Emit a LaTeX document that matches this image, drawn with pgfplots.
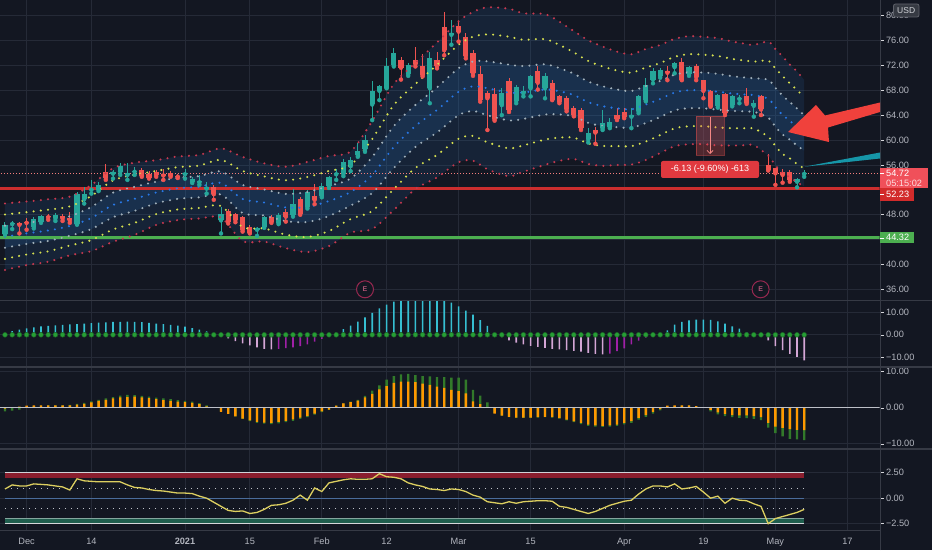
\documentclass[border=0pt]{standalone}
\usepackage{fontspec}
\setmainfont{Liberation Sans}
\usepackage{pgfplots}
\pgfplotsset{compat=1.18}
\usepackage{pgfplotstable}
\usepgfplotslibrary{fillbetween}
\usetikzlibrary{arrows.meta}

\definecolor{bg}{HTML}{131722}
\definecolor{gridc}{HTML}{252A37}
\definecolor{sepc}{HTML}{363A45}
\definecolor{txt}{HTML}{B2B5BE}
\definecolor{upc}{HTML}{26A69A}
\definecolor{dnc}{HTML}{EF5350}
\definecolor{bandfill}{HTML}{286EB4}
\definecolor{dred}{HTML}{C7394F}
\definecolor{dyel}{HTML}{D7E150}
\definecolor{dwht}{HTML}{A0AFB9}
\definecolor{dblu}{HTML}{2878E6}
\definecolor{lred}{HTML}{CC2E2E}
\definecolor{lgrn}{HTML}{4CAF50}
\definecolor{cyanb}{HTML}{36BFD2}
\definecolor{pinkb}{HTML}{D4A6D6}
\definecolor{purpb}{HTML}{A020A8}
\definecolor{sqz}{HTML}{279E36}
\definecolor{orb}{HTML}{FF9800}
\definecolor{grb}{HTML}{327A2A}
\definecolor{osc}{HTML}{DCCF60}
\definecolor{tagredA}{HTML}{F0505A}
\definecolor{tagredB}{HTML}{D22B2B}
\definecolor{labred}{HTML}{E0393F}
\definecolor{arrred}{HTML}{F0413C}
\definecolor{tealw}{HTML}{1696A8}
\definecolor{emark}{HTML}{962850}
\definecolor{redband}{HTML}{8A1E2E}
\definecolor{grnband}{HTML}{1F5E4E}
\definecolor{zeroc}{HTML}{4A6C9B}
\pagecolor{bg}

\newcommand{\tf}{\fontsize{9.2}{11}\selectfont}

\pgfplotstableread{
k Ru Yu Wu B Wl Yl Rl
1 49.82 48.04 46.26 44.48 42.70 40.92 39.14
4 50.12 48.42 46.72 45.02 43.32 41.62 39.92
7 50.48 48.81 47.14 45.47 43.80 42.13 40.46
10 50.91 49.34 47.77 46.20 44.63 43.06 41.49
13 52.79 51.02 49.25 47.48 45.71 43.94 42.17
16 55.48 53.51 51.54 49.57 47.60 45.63 43.66
19 56.35 54.42 52.49 50.56 48.63 46.70 44.77
22 56.76 55.03 53.30 51.57 49.84 48.11 46.38
25 57.35 55.65 53.95 52.25 50.55 48.85 47.15
28 57.60 55.90 54.20 52.50 50.80 49.10 47.40
31 58.65 56.80 54.95 53.10 51.25 49.40 47.55
34 57.28 55.03 52.78 50.53 48.28 46.03 43.78
37 56.24 54.15 52.06 49.97 47.88 45.79 43.70
40 55.71 53.53 51.35 49.17 46.99 44.81 42.63
43 56.48 54.07 51.66 49.25 46.84 44.43 42.02
46 57.44 55.03 52.62 50.21 47.80 45.39 42.98
49 58.16 55.99 53.82 51.65 49.48 47.31 45.14
52 63.05 60.16 57.27 54.38 51.49 48.60 45.71
55 68.99 65.62 62.25 58.88 55.51 52.14 48.77
58 72.36 68.99 65.62 62.25 58.88 55.51 52.14
61 75.65 72.04 68.43 64.82 61.21 57.60 53.99
64 79.06 75.29 71.52 67.75 63.98 60.21 56.44
66 80.56 76.58 72.60 68.62 64.64 60.66 56.68
68 81.29 76.96 72.63 68.30 63.97 59.64 55.31
71 81.06 76.58 72.10 67.62 63.14 58.66 54.18
73 80.34 76.10 71.86 67.62 63.38 59.14 54.90
76 80.21 76.18 72.15 68.12 64.09 60.06 56.03
78 78.98 75.26 71.54 67.82 64.10 60.38 56.66
80 77.48 74.06 70.64 67.22 63.80 60.38 56.96
82 76.00 72.69 69.38 66.07 62.76 59.45 56.14
84 75.00 71.81 68.62 65.43 62.24 59.05 55.86
86 74.18 71.15 68.12 65.09 62.06 59.03 56.00
88 73.76 70.81 67.86 64.91 61.96 59.01 56.06
90 74.61 71.64 68.67 65.70 62.73 59.76 56.79
92 75.25 72.36 69.47 66.58 63.69 60.80 57.91
94 76.23 73.36 70.49 67.62 64.75 61.88 59.01
96 76.66 73.77 70.88 67.99 65.10 62.21 59.32
98 76.56 73.69 70.82 67.95 65.08 62.21 59.34
100 76.36 73.49 70.62 67.75 64.88 62.01 59.14
102 75.80 73.02 70.24 67.46 64.68 61.90 59.12
104 75.42 72.71 70.00 67.29 64.58 61.87 59.16
105 75.26 72.58 69.90 67.22 64.54 61.86 59.18
107 75.78 72.73 69.68 66.63 63.58 60.53 57.48
108 74.59 71.48 68.37 65.26 62.15 59.04 55.93
109 73.40 70.27 67.14 64.01 60.88 57.75 54.62
110 72.11 69.10 66.09 63.08 60.07 57.06 54.05
111 71.00 68.03 65.06 62.09 59.12 56.15 53.18
112 69.64 66.80 63.96 61.12 58.28 55.44 52.60
}\bands

\pgfplotstableread{
k O H L C
1 44.9 46.9 44.8 46.4
2 46.5 47.0 45.7 46.7
5 46.1 47.7 45.8 47.3
6 46.9 48.0 46.7 47.8
8 47.4 48.3 47.0 47.9
11 46.5 51.7 46.4 51.3
12 50.5 52.5 49.8 51.4
13 52.0 53.6 51.4 52.2
14 52.0 53.2 51.8 52.8
16 54.6 55.2 53.8 54.8
17 54.9 56.3 54.4 55.9
18 54.4 56.3 53.6 54.7
19 54.9 55.6 54.4 55.1
26 54.5 55.4 53.8 54.7
27 53.3 54.1 53.1 53.8
28 53.2 54.4 52.8 53.4
29 52.2 53.3 51.4 52.4
31 47.1 49.3 45.0 48.1
36 45.6 46.1 44.6 45.9
37 46.1 47.8 45.9 47.6
39 46.7 48.3 46.5 48.0
41 48.0 52.1 47.7 49.7
43 49.3 52.0 49.0 51.7
45 51.0 53.1 50.8 52.6
46 52.6 54.3 52.3 54.0
47 54.5 55.4 53.6 54.7
48 54.6 56.9 54.2 56.4
49 55.8 57.3 55.0 56.8
50 57.6 59.5 57.3 58.3
51 58.5 60.8 58.1 60.0
52 65.7 69.4 63.2 67.8
53 67.9 68.8 66.4 68.6
54 68.4 73.1 68.3 71.9
55 72.0 74.7 71.8 73.9
57 70.6 72.4 70.3 72.1
60 68.3 74.2 65.9 73.1
63 76.9 79.3 75.3 77.1
70 65.6 68.3 64.0 67.5
72 66.3 68.8 65.9 68.5
73 67.5 68.7 67.0 67.9
74 68.3 70.4 67.0 70.3
76 68.3 70.8 66.7 70.3
82 60.1 61.9 59.6 61.2
84 61.9 64.8 61.6 62.8
85 62.1 63.5 61.9 62.9
88 63.75 65.1 61.9 64.0
89 64.6 67.2 64.3 67.0
90 66.4 69.9 66.2 68.8
91 69.7 71.5 69.1 71.1
92 70.3 71.5 70.0 71.2
94 71.7 72.6 70.7 72.3
96 70.6 71.9 70.3 71.7
100 65.5 67.4 65.2 67.2
102 65.6 67.3 65.4 67.1
103 66.6 67.2 65.9 66.8
105 65.5 66.4 63.75 65.9
111 53.3 53.85 52.4 53.7
112 54.55 55.2 54.1 54.72
}\up

\pgfplotstableread{
k O H L C
3 46.7 46.9 45.0 46.4
4 46.9 47.4 45.6 46.7
7 47.8 48.2 47.2 47.6
9 47.8 48.1 47.0 47.4
10 47.5 48.5 46.7 47.1
15 54.8 56.1 53.6 53.95
20 55.2 55.5 54.1 54.3
21 54.6 55.0 53.8 53.95
22 54.9 55.2 54.1 54.4
23 54.6 55.4 53.6 54.3
24 54.7 55.0 54.1 54.3
25 54.3 54.5 53.9 54.1
30 52.4 52.8 50.4 51.3
32 48.6 49.0 46.6 46.9
33 48.1 48.3 46.8 47.2
34 47.6 47.8 45.3 45.6
35 46.1 46.4 45.0 45.1
38 47.7 48.0 46.7 46.9
40 48.5 49.0 46.9 47.7
42 50.6 50.9 48.0 48.2
44 51.0 52.9 49.7 50.4
56 72.9 73.4 69.7 71.6
58 72.9 75.0 71.8 72.2
59 71.8 73.8 70.2 70.4
61 72.9 74.2 71.5 71.8
62 78.1 80.6 73.6 74.4
64 78.3 79.0 75.8 77.4
65 76.6 77.1 73.1 73.5
66 73.9 74.45 70.3 70.7
67 70.6 71.8 66.15 66.5
68 67.5 67.8 61.6 66.7
69 67.4 68.3 63.1 63.3
71 69.4 69.9 64.5 64.8
75 71.1 71.9 68.1 69.2
77 69.2 69.6 66.4 66.5
78 67.0 67.2 65.9 66.15
79 66.7 67.0 64.6 64.9
80 65.1 65.4 63.8 64.0
81 64.8 65.2 61.6 61.9
83 61.6 62.1 59.4 61.2
86 64.0 65.1 63.2 63.3
87 64.55 65.1 63.5 63.75
93 71.1 71.8 69.6 70.8
95 72.6 73.1 69.6 69.7
97 71.9 72.15 69.6 70.1
98 69.6 69.7 66.7 67.9
99 67.9 68.0 65.35 65.5
101 67.4 67.5 64.0 64.3
104 67.1 68.3 65.8 66.0
106 67.1 67.2 64.0 64.9
107 56.0 57.75 55.1 55.2
108 55.45 55.5 52.8 54.65
109 54.9 55.3 53.15 54.4
110 54.9 55.2 53.3 53.6
}\down

\pgfplotstableread{
k v
1 0.8
2 1.6
3 2.3
4 2.9
5 3.3
6 3.7
7 4.0
8 4.2
9 4.4
10 4.6
11 4.8
12 5.0
13 5.2
14 5.4
15 5.5
16 5.7
17 5.8
18 5.9
19 5.8
20 5.6
21 5.3
22 5.0
23 4.7
24 4.4
25 4.1
26 3.6
27 3.0
28 2.3
29 1.5
30 0.6
47 1.0
48 2.5
49 4.1
50 5.9
51 7.8
52 9.8
53 11.8
54 13.4
55 14.7
56 15.4
57 15.4
58 15.4
59 15.4
60 15.4
61 15.4
62 15.4
63 14.3
64 12.6
65 10.8
66 9.0
67 6.5
68 4.0
69 0.8
92 0.8
93 2.0
94 4.5
95 5.7
96 6.4
97 6.7
98 6.8
99 6.6
100 6.0
101 5.0
102 3.8
103 2.7
104 1.2
105 0.6
106 0.3
}\sqpos

\pgfplotstableread{
k v
31 -0.5
32 -1.6
33 -2.8
34 -3.8
35 -4.7
36 -5.6
37 -6.2
38 -6.5
70 -1.0
71 -2.5
72 -3.5
73 -4.3
74 -4.9
75 -5.4
76 -5.8
77 -6.2
78 -6.5
79 -6.8
80 -7.1
81 -7.5
82 -8.0
83 -8.5
84 -8.7
107 -2.5
108 -5.0
109 -6.8
110 -8.5
111 -9.8
112 -11.4
}\sqpink

\pgfplotstableread{
k v
39 -6.3
40 -5.9
41 -5.6
42 -5.0
43 -4.2
44 -3.0
45 -1.8
46 -0.6
85 -8.4
86 -7.3
87 -6.0
88 -4.3
89 -2.6
90 -1.2
91 -0.3
}\sqpurp

\pgfplotstableread{
k mo mg s osc
1 -0.2 -1.0 0 0.9
2 0.0 -0.8 0 1.3
3 0.3 -0.5 0 1.2
4 0.6 0.2 0 1.2
5 0.65 0.5 0 1.4
6 0.65 0.6 0 1.35
7 0.65 0.7 0 1.3
8 0.65 0.7 0 1.2
9 0.65 0.7 0 1.1
10 0.7 0.8 0 0.8
11 0.9 1.1 0 1.9
12 1.1 1.4 0 1.7
13 1.5 1.8 0 1.65
14 1.9 2.2 0 1.6
15 2.2 2.6 0 1.6
16 2.6 3.0 0 1.6
17 2.9 3.4 0 1.6
18 3.0 3.6 0 1.3
19 3.1 3.5 0 1.05
20 2.9 3.3 0 1.0
21 2.7 3.1 0 0.85
22 2.4 2.8 0 0.75
23 2.1 2.6 0 0.7
24 1.9 2.4 0 0.6
25 1.7 2.1 0 0.5
26 1.6 1.9 0 0.5
27 1.4 1.7 0 0.45
28 1.0 1.3 0 0.2
29 0.4 0.7 0 0.0
30 0.0 0.2 0 -0.4
31 -1.1 -0.9 0 -0.8
32 -1.7 -1.6 0 -1.2
33 -2.4 -2.4 0 -1.3
34 -3.0 -3.1 0 -1.25
35 -3.5 -3.7 0 -1.5
36 -3.9 -4.2 0 -1.4
37 -4.1 -4.4 0 -1.1
38 -4.2 -4.5 0 -0.7
39 -3.9 -4.3 0 -0.65
40 -3.6 -4.0 0 -0.5
41 -3.2 -3.6 0 -0.2
42 -2.7 -3.1 0 0.3
43 -2.3 -2.6 0 -0.2
44 -1.6 -1.9 0 1.0
45 -1.0 -1.2 0 0.65
46 -0.5 -0.6 0 1.5
47 0.6 0.6 0 1.65
48 1.2 1.2 0 1.8
49 1.6 1.7 0 1.9
50 2.0 2.2 0 1.85
51 2.9 3.3 0 1.85
52 3.9 4.8 0 1.9
53 5.1 6.2 0 2.4
54 6.0 7.8 0 2.1
55 6.9 8.8 0 2.05
56 7.3 9.3 0 1.9
57 7.3 9.4 0 1.5
58 7.1 9.1 0 1.3
59 6.7 8.8 0 1.15
60 6.4 8.7 0 0.9
61 5.9 8.5 0 0.85
62 5.5 8.5 0 0.75
63 5.0 8.4 0 0.9
64 4.6 8.4 0 0.85
65 4.0 7.8 0 0.65
66 1.8 5.0 0 0.3
67 1.0 3.4 0 0.1
68 0.0 1.5 0 -0.35
69 -1.6 -1.4 0 -0.45
70 -2.2 -2.2 0 -0.55
71 -2.5 -2.6 0 -0.35
72 -2.7 -2.8 0 -0.5
73 -2.7 -2.8 0 -0.35
74 -2.7 -2.8 0 -0.3
75 -2.6 -2.7 0 -0.25
76 -2.5 -2.6 0 -0.25
77 -2.6 -2.7 0 -0.3
78 -2.9 -3.0 0 -0.8
79 -3.3 -3.5 0 -0.9
80 -3.8 -4.0 0 -1.1
81 -4.2 -4.5 0 -1.3
82 -4.7 -5.0 0 -1.5
83 -4.9 -5.2 0 -1.3
84 -5.0 -5.3 0 -1.0
85 -4.9 -5.2 0 -0.7
86 -4.7 -5.0 0 -0.5
87 -4.2 -4.6 0 -0.3
88 -3.7 -4.2 0 -0.2
89 -2.8 -3.3 0 0.4
90 -2.0 -2.5 0 0.9
91 -1.1 -1.6 0 1.2
92 -0.4 -0.7 0 1.2
93 0.6 0.2 0 1.1
94 0.7 0.5 0 1.4
95 0.7 0.6 0 0.9
96 0.7 0.6 0 1.0
97 0.5 0.4 0 1.15
98 0.2 0.0 0 0.6
99 -0.6 -1.0 0 0.0
100 -1.3 -1.8 0 0.2
101 -1.7 -2.3 0 -0.5
102 -2.0 -2.6 0 0.0
103 -2.1 -2.8 0 -0.2
104 -2.1 -2.9 0 -0.25
105 -2.3 -3.1 0 -0.55
106 -2.6 -3.4 0 -0.8
107 -4.2 -5.5 0 -2.5
108 -5.2 -7.0 0 -2.0
109 -5.6 -7.9 0 -1.8
110 -5.9 -8.6 0 -1.6
111 -6.1 -8.8 0 -1.4
112 -6.2 -9.0 0 -1.1
}\ind

\pgfplotsset{
  panel/.style={
    scale only axis, width=879.5pt, xmin=0.3056, xmax=122.458,
    axis line style={draw=none},
    xtick={4,13,26,35,45,54,64,74,87,98,108,118},
    xticklabels={}, xtick style={draw=none},
    grid=major, major grid style={gridc, line width=0.7pt},
    ytick pos=right, yticklabel pos=right,
    ytick style={draw=txt!55, line width=0.6pt},
    major tick length=4pt, tick align=outside,
    yticklabel style={font=\tf, text=txt, anchor=west, xshift=-1pt},
    anchor=south west,
  },
  dots/.style={smooth, line width=2.3pt, line cap=round, dash pattern=on 0pt off 7.2pt},
}

\begin{document}
\begin{tikzpicture}

% ---------------- main price panel
\begin{axis}[panel, at={(0pt,250pt)}, height=300pt,
  ymin=34.318, ymax=82.472,
  ytick={36,40,44,48,52,56,60,64,68,72,76,80},
  yticklabels={36.00,40.00,{},48.00,{},56.00,60.00,64.00,68.00,72.00,76.00,80.00}]
  \addplot[name path=ru, draw=none, smooth, forget plot] table[x=k,y=Ru]{\bands};
  \addplot[name path=rl, draw=none, smooth, forget plot] table[x=k,y=Rl]{\bands};
  \addplot[name path=wu, draw=none, smooth, forget plot] table[x=k,y=Wu]{\bands};
  \addplot[name path=wl, draw=none, smooth, forget plot] table[x=k,y=Wl]{\bands};
  \addplot[fill=bandfill, fill opacity=0.15, draw=none, forget plot] fill between[of=ru and rl];
  \addplot[fill=bandfill, fill opacity=0.18, draw=none, forget plot] fill between[of=wu and wl];
  \addplot[lred, line width=3.2pt, forget plot] coordinates {(0,52.23) (123,52.23)};
  \addplot[lgrn, line width=3.2pt, forget plot] coordinates {(0,44.32) (123,44.32)};
  \addplot[dnc!75, line width=0.6pt, dash pattern=on 1pt off 2pt, forget plot] coordinates {(0,54.72) (123,54.72)};
  \addplot[upc, only marks, mark=none, forget plot,
    error bars/.cd, y dir=plus, y explicit, error mark=none,
    error bar style={line width=1pt, upc}]
    table[x=k, y=L, y error plus expr=\thisrow{H}-\thisrow{L}]{\up};
  \addplot[upc, only marks, mark=none, forget plot,
    error bars/.cd, y dir=plus, y explicit, error mark=none,
    error bar style={line width=5.2pt, upc}]
    table[x=k, y=O, y error plus expr=\thisrow{C}-\thisrow{O}]{\up};
  \addplot[dnc, only marks, mark=none, forget plot,
    error bars/.cd, y dir=plus, y explicit, error mark=none,
    error bar style={line width=1pt, dnc}]
    table[x=k, y=L, y error plus expr=\thisrow{H}-\thisrow{L}]{\down};
  \addplot[dnc, only marks, mark=none, forget plot,
    error bars/.cd, y dir=plus, y explicit, error mark=none,
    error bar style={line width=5.2pt, dnc}]
    table[x=k, y=C, y error plus expr=\thisrow{O}-\thisrow{C}]{\down};
  \addplot[dots, dred] table[x=k,y=Ru]{\bands};
  \addplot[dots, dyel] table[x=k,y=Yu]{\bands};
  \addplot[dots, dwht] table[x=k,y=Wu]{\bands};
  \addplot[dots, dblu] table[x=k,y=B]{\bands};
  \addplot[dots, dwht] table[x=k,y=Wl]{\bands};
  \addplot[dots, dyel] table[x=k,y=Yl]{\bands};
  \addplot[dots, dred] table[x=k,y=Rl]{\bands};
\end{axis}

% ---------------- squeeze momentum panel
\begin{axis}[panel, at={(0pt,183pt)}, height=67pt,
  ymin=-14.31, ymax=15.47, ytick={-10,0,10}, yticklabels={−10.00,0.00,10.00}]
  \addplot[ybar, bar width=1.6pt, bar shift=0pt, fill=cyanb, draw=none] table[x=k,y=v]{\sqpos};
  \addplot[ybar, bar width=1.6pt, bar shift=0pt, fill=pinkb, draw=none] table[x=k,y=v]{\sqpink};
  \addplot[ybar, bar width=1.6pt, bar shift=0pt, fill=purpb, draw=none] table[x=k,y=v]{\sqpurp};
  \addplot[only marks, mark=*, mark size=2.4pt, mark options={draw=sqz!65!black, fill=sqz, line width=0.5pt}] table[x=k,y=s]{\ind};
\end{axis}

% ---------------- MACD-like panel
\begin{axis}[panel, at={(0pt,101pt)}, height=82pt,
  ymin=-11.44, ymax=11.33, ytick={-10,0,10}, yticklabels={−10.00,0.00,10.00}]
  \addplot[ybar, bar width=2.4pt, bar shift=0pt, fill=grb, draw=none] table[x=k,y=mg]{\ind};
  \addplot[ybar, bar width=2.4pt, bar shift=0pt, fill=orb, draw=none] table[x=k,y=mo]{\ind};
  \addplot[txt!85, line width=1pt] coordinates {(0,0) (123,0)};
\end{axis}

% ---------------- oscillator panel
\begin{axis}[panel, at={(0pt,20pt)}, height=81pt,
  ymin=-3.12, ymax=4.82, ytick={-2.5,0,2.5}, yticklabels={−2.50,0.00,2.50},
  xticklabels={Dec,14,\bfseries 2021,15,Feb,12,Mar,15,Apr,19,May,17},
  xticklabel style={font=\tf, text=txt, anchor=base, yshift=-10pt}]
  \addplot[name path=ra, draw=none, forget plot] coordinates {(1,2.5) (112,2.5)};
  \addplot[name path=rb, draw=none, forget plot] coordinates {(1,2.0) (112,2.0)};
  \addplot[name path=ga, draw=none, forget plot] coordinates {(1,-2.0) (112,-2.0)};
  \addplot[name path=gb, draw=none, forget plot] coordinates {(1,-2.5) (112,-2.5)};
  \addplot[fill=redband, draw=none] fill between[of=ra and rb];
  \addplot[fill=grnband, draw=none] fill between[of=ga and gb];
  \addplot[color=txt!60, line width=1.1pt] coordinates {(1,2.5) (112,2.5)};
  \addplot[color=txt!55, line width=0.9pt] coordinates {(1,-2.5) (112,-2.5)};
  \addplot[color=grnband!55!white, line width=0.9pt] coordinates {(1,-2.0) (112,-2.0)};
  \addplot[txt!80, line width=0.9pt, dash pattern=on 1pt off 5pt] coordinates {(1,1) (112,1)};
  \addplot[txt!80, line width=0.9pt, dash pattern=on 1pt off 5pt] coordinates {(1,-1) (112,-1)};
  \addplot[zeroc, line width=1pt] coordinates {(1,0) (112,0)};
  \addplot[osc, line width=1.3pt] table[x=k,y=osc]{\ind};
\end{axis}

\begin{scope}[x=1pt,y=1pt]
% ---------------- separators
\draw[sepc, line width=0.8pt] (0,250) -- (932,250);
\draw[sepc, line width=1.2pt] (0,183) -- (932,183);
\draw[sepc, line width=1.2pt] (0,101) -- (932,101);
\draw[sepc, line width=1pt] (0,20) -- (880,20);
\draw[sepc, line width=1pt] (880,0) -- (880,550);

% ---------------- annotations
\fill[arrred] (880,447.5) -- (825,434.5) -- (816,445) -- (788,418) -- (829,408) -- (828,422.5) -- (880,438) -- cycle;
\fill[tealw] (804.3,383.3) -- (880,397.5) -- (880,391.5) -- cycle;

\fill[dnc, opacity=0.28] (696,434) rectangle (724,395);
\draw[dnc, opacity=0.45, line width=0.6pt] (696,434) rectangle (724,395);
\draw[dnc!70, line width=0.8pt, -{Straight Barb[length=3pt]}] (710,433) -- (710,396);
\fill[labred, rounded corners=2pt] (661,389) rectangle (759,372);
\node[white, font=\fontsize{9}{10}\selectfont, inner sep=0] at (710,380.5) {-6.13 (-9.60\%) -613};

\draw[emark, line width=1pt, fill=bg] (365,260.7) circle (8.5pt);
\node[emark!80!white, font=\fontsize{7}{8}\selectfont\bfseries, inner sep=0] at (365,260.7) {E};
\draw[emark, line width=1pt, fill=bg] (760.6,260.7) circle (8.5pt);
\node[emark!80!white, font=\fontsize{7}{8}\selectfont\bfseries, inner sep=0] at (760.6,260.7) {E};

% price tags
\fill[tagredA] (879.5,382.3) rectangle (928,361.7);
\draw[white, line width=0.6pt] (880,377) -- (884,377);
\node[anchor=west, white, font=\tf, inner sep=0] at (886,376.7) {54.72};
\node[anchor=west, white!80!tagredA, font=\tf, inner sep=0] at (886,367) {05:15:02};
\fill[tagredB] (879.5,361.7) rectangle (914.3,349.3);
\draw[white, line width=0.6pt] (880,355.5) -- (884,355.5);
\node[anchor=west, white, font=\tf, inner sep=0] at (886,355.5) {52.23};
\fill[lgrn] (879.5,317.7) rectangle (914.3,306.7);
\draw[white, line width=0.6pt] (880,312.2) -- (884,312.2);
\node[anchor=west, white, font=\tf, inner sep=0] at (886,312.2) {44.32};

\draw[draw=sepc!80!white, fill=bg!85!white, rounded corners=2pt, line width=0.8pt] (893.5,546) rectangle (919,533);
\node[text=txt!60!white, font=\fontsize{8.5}{9}\selectfont, inner sep=0] at (906.2,539.5) {USD};

\pgfresetboundingbox
\useasboundingbox (0,0) rectangle (932,550);
\end{scope}
\end{tikzpicture}
\end{document}
